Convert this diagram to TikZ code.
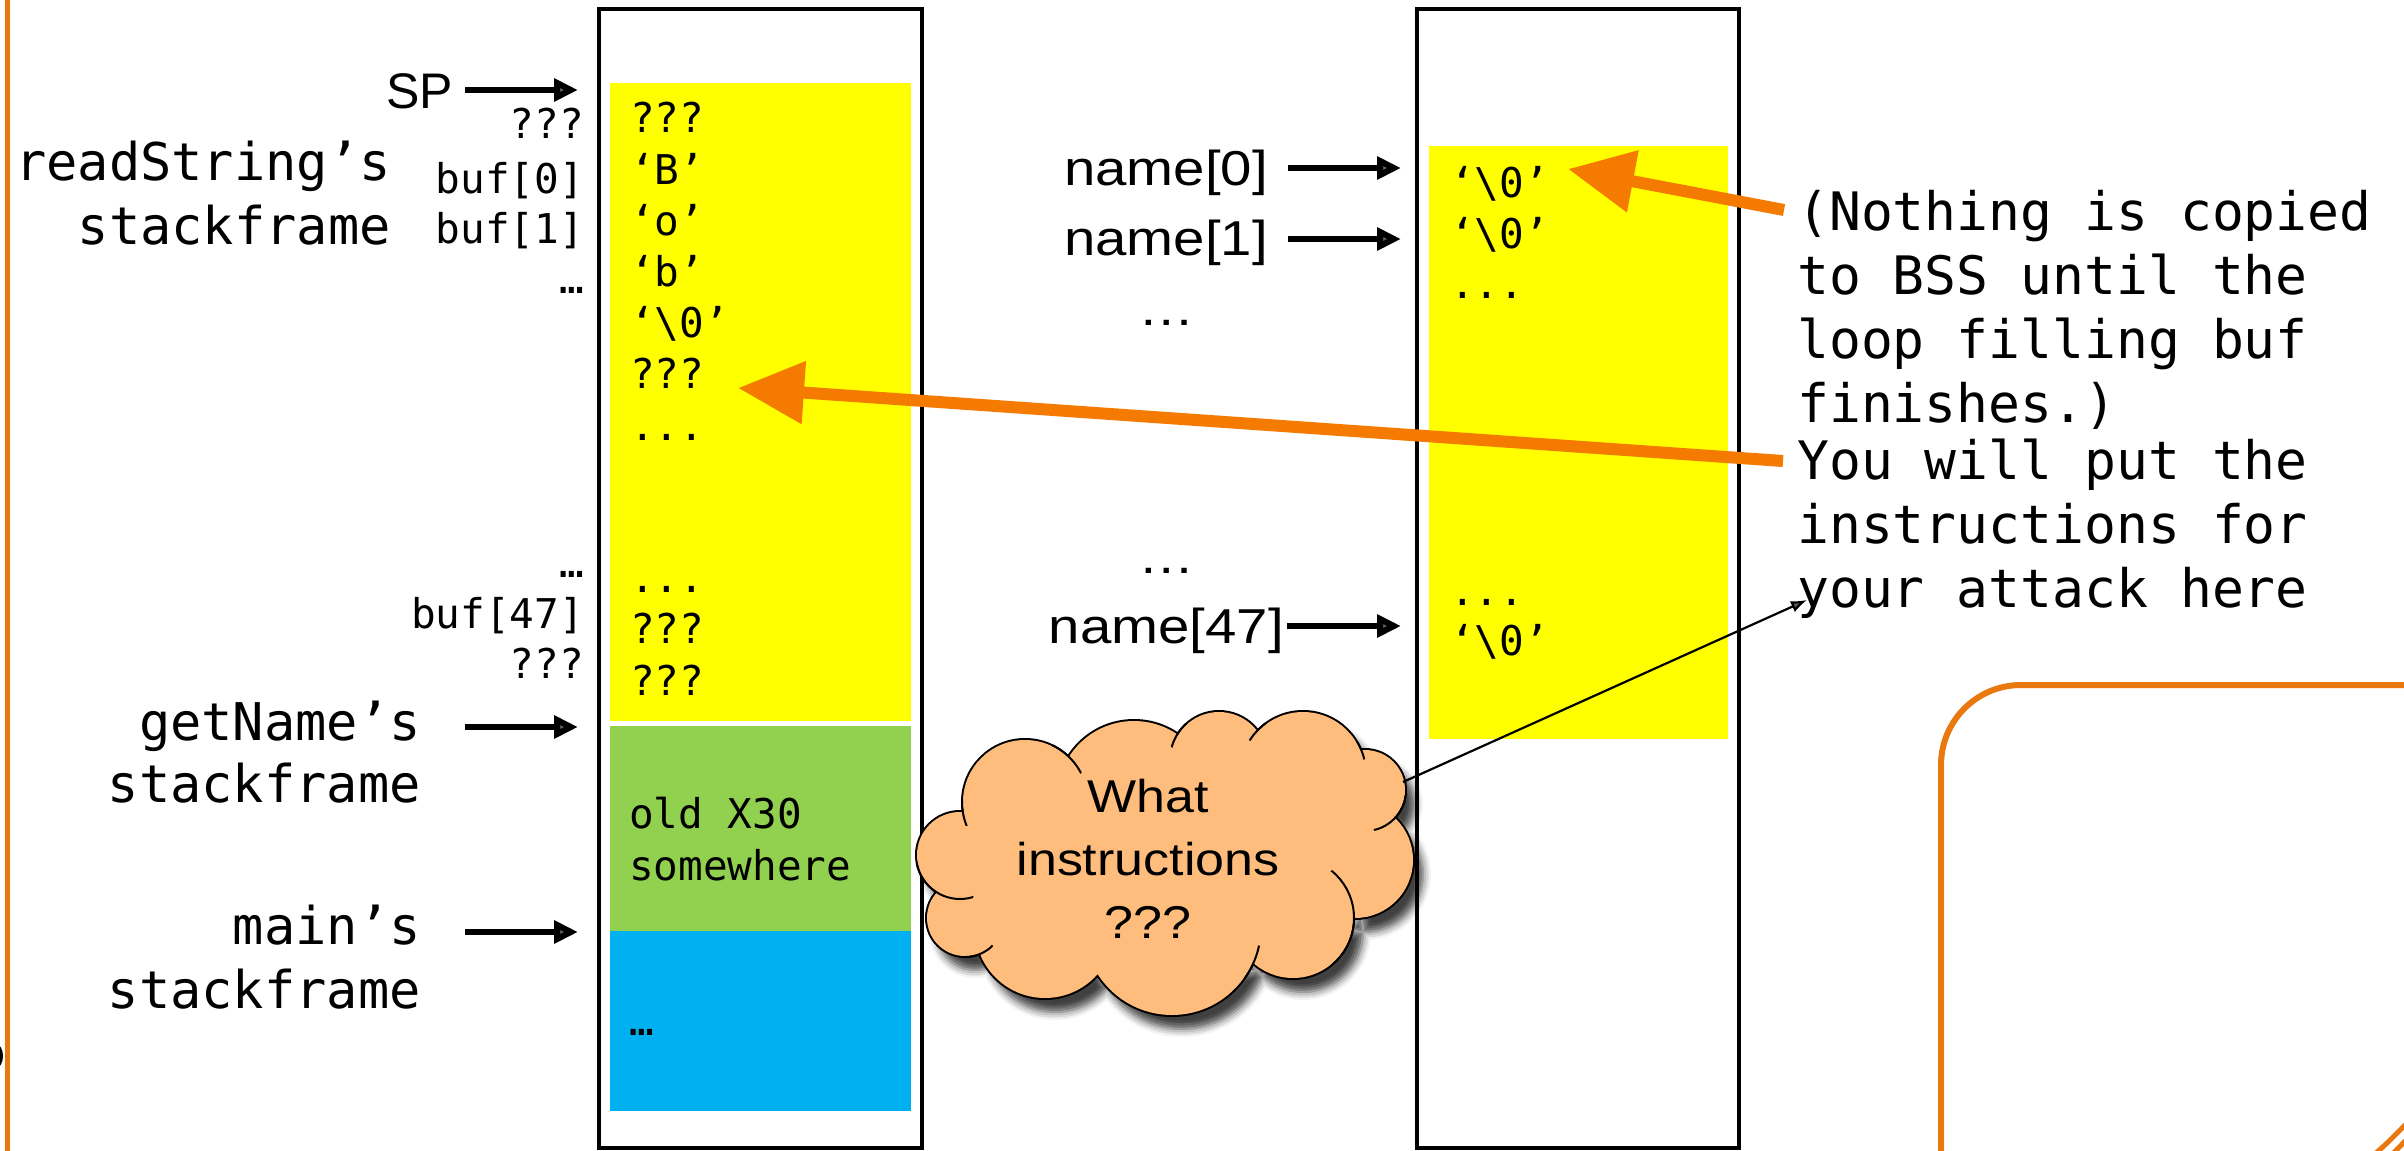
\documentclass[tikz,border=0pt]{standalone}
\usepackage{fontspec}
\usetikzlibrary{arrows.meta,shadows.blur}
\newfontfamily\monofnt{DejaVu Sans Mono}
\newfontfamily\sansfnt{Liberation Sans}
\newfontfamily\namefnt{Liberation Sans}[FakeStretch=1.15]
\newfontfamily\cloudfnt{Liberation Sans}[FakeStretch=1.13]
\definecolor{memyellow}{HTML}{FFFF00}
\definecolor{memgreen}{HTML}{92D050}
\definecolor{memblue}{HTML}{00B0F0}
\definecolor{hotorange}{HTML}{F47A00}
\definecolor{frameorange}{HTML}{E9780E}
\definecolor{cloudfill}{HTML}{FFBD7D}
\begin{document}
\begin{tikzpicture}[x=1pt,y=-1pt,
  bigmono/.style={font=\monofnt\fontsize{52}{63}\selectfont, inner sep=0pt, anchor=base east},
  smallmono/.style={font=\monofnt\fontsize{41}{51}\selectfont, inner sep=0pt, anchor=base east},
  cellmono/.style={font=\monofnt\fontsize{41}{51}\selectfont, inner sep=0pt, anchor=base west},
  notemono/.style={font=\monofnt\fontsize{53}{64}\selectfont, inner sep=0pt, anchor=base west},
  namelbl/.style={font=\namefnt\fontsize{49}{56}\selectfont, inner sep=0pt, anchor=base east},
  cloudtxt/.style={font=\cloudfnt\fontsize{46}{63}\selectfont, inner sep=0pt, anchor=base},
  memframe/.style={draw=black, line width=3.5pt},
  ptr/.style={line width=6pt, -{Triangle[length=24pt,width=22pt]}},
  fatptr/.style={draw=hotorange, line width=12pt, -{Triangle[length=66pt,width=60pt]}},
  thinptr/.style={line width=2.2pt, -{Latex[length=16pt,width=12pt]}},
  orangeframe/.style={draw=frameorange, line width=6pt},
  % the cloud is the union of eleven puffs around an oval core
  cloudpuffs/.style={insert path={
    (960,855) circle[radius=43pt]  (1025,802) circle[radius=62pt]
    (1134,798) circle[radius=77pt] (1219,760) circle[radius=48pt]
    (1303,774) circle[radius=62pt] (1365,790) circle[radius=40pt]
    (1355,860) circle[radius=58pt] (1293,918) circle[radius=60pt]
    (1172,927) circle[radius=88pt] (1045,928) circle[radius=70pt]
    (965,918) circle[radius=38pt]}},
  cloudcore/.style={insert path={(1165,865) ellipse[x radius=200pt, y radius=100pt]}},
  puffstub/.style={draw=black, line width=2pt}
]
\useasboundingbox (0,0) rectangle (2404,1151);

% frame lines in orange
\draw[orangeframe, line width=5pt] (7.5,-10) -- (7.5,1160);
\draw[orangeframe, rounded corners=80pt] (1941,1165) -- (1941,685) -- (2415,685);
\draw[orangeframe, line width=5pt] (2371,1157) .. controls (2386,1145) and (2396,1134) .. (2409,1121);
\draw[orangeframe, line width=5pt] (2389,1157) .. controls (2397,1150) and (2402,1144) .. (2409,1137);
\fill[black] (-4,1056) ellipse [x radius=7pt, y radius=12pt];

% stack memory
\fill[memyellow] (610,83) rectangle (911,721);
\fill[memgreen] (610,726) rectangle (911,931);
\fill[memblue] (610,931) rectangle (911,1111);
\draw[memframe] (599,9) rectangle (922,1148);

% BSS memory
\fill[memyellow] (1429,146) rectangle (1728,739);
\draw[memframe] (1417,9) rectangle (1739,1148);

% stack frame labels
\node[bigmono] (rs1) at (391,180) {readString’s};
\node[bigmono] (rs2) at (391,244) {stackframe};
\node[bigmono] (gn1) at (421,740) {getName’s};
\node[bigmono] (gn2) at (421,802) {stackframe};
\node[bigmono] (mn1) at (421,944) {main’s};
\node[bigmono] (mn2) at (421,1008) {stackframe};

\node[font=\sansfnt\fontsize{50}{60}\selectfont, inner sep=0pt, anchor=base east] (sp) at (453,108) {SP};

% buffer slot labels
\node[smallmono] (q1) at (584,138) {???};
\node[smallmono] (b0) at (584,193) {buf[0]};
\node[smallmono] (b1) at (584,243) {buf[1]};
\node[smallmono] (e1) at (584,293) {…};
\node[smallmono] (e2) at (584,577) {…};
\node[smallmono] (b47) at (584,628) {buf[47]};
\node[smallmono] (q2) at (584,678) {???};

% stack cell contents
\node[cellmono] (c1) at (630,132) {???};
\node[cellmono] (c2) at (630,184) {‘B’};
\node[cellmono] (c3) at (630,235) {‘o’};
\node[cellmono] (c4) at (630,286) {‘b’};
\node[cellmono] (c5) at (630,337) {‘\textbackslash 0’};
\node[cellmono] (c6) at (630,388) {???};
\node[cellmono] (c7) at (630,440) {...};
\node[cellmono] (c8) at (630,592) {...};
\node[cellmono] (c9) at (630,643) {???};
\node[cellmono] (c10) at (630,695) {???};
\node[cellmono] (g1) at (629,828) {old X30};
\node[cellmono] (g2) at (629,880) {somewhere};
\node[cellmono] (bl) at (629,1035) {…};

% BSS cell contents
\node[cellmono] (d1) at (1450,197) {‘\textbackslash 0’};
\node[cellmono] (d2) at (1450,248) {‘\textbackslash 0’};
\node[cellmono] (d3) at (1450,298) {...};
\node[cellmono] (d4) at (1450,605) {...};
\node[cellmono] (d5) at (1450,655) {‘\textbackslash 0’};

% name[] labels
\node[namelbl] (nm0) at (1268,185) {name[0]};
\node[namelbl] (nm1) at (1268,255) {name[1]};
\node[namelbl, anchor=base] (nme1) at (1167,325) {…};
\node[namelbl, anchor=base] (nme2) at (1167,573) {…};
\node[namelbl] (nm47) at (1284,643) {name[47]};

% notes
\node[notemono] (t1) at (1797,230) {(Nothing is copied};
\node[notemono] (t2) at (1797,294) {to BSS until the};
\node[notemono] (t3) at (1797,358) {loop filling buf};
\node[notemono] (t4) at (1797,422) {finishes.)};
\node[notemono] (t5) at (1797,479) {You will put the};
\node[notemono] (t6) at (1797,543) {instructions for};
\node[notemono] (t7) at (1797,607) {your attack here};

% thought cloud: shadow, outline (outer half of a wide stroke), fill
\path[cloudpuffs, cloudcore, fill=cloudfill,
      blur shadow={shadow xshift=10pt, shadow yshift=-14pt, shadow blur radius=8pt, shadow opacity=75}];
\draw[cloudpuffs, draw=black, line width=4pt];
\fill[cloudpuffs, cloudcore, cloudfill];
% short strokes where one puff runs on into its neighbour
\foreach \jx/\jy/\cx/\cy/\r/\len in {
    963.9/812.2/1025/802/63/14, 1068.4/757.7/1025/802/63/20,
    1178.1/734.9/1219/760/49/14, 1257.7/731.7/1303/774/63/12,
    1360.3/750.3/1303/774/63/10, 1394.3/817.3/1365/790/41/24,
    1353/917.9/1293/918/61/52, 1252.7/962.4/1172/927/89/18,
    979.6/953/965/918/39/15, 937.7/891.7/960/855/44/36} {
  \begin{scope}
    \clip (\jx,\jy) circle[radius=\len pt];
    \draw[puffstub] (\cx,\cy) circle[radius=\r pt];
  \end{scope}
}
\node[cloudtxt] (w1) at (1148,812) {What};
\node[cloudtxt] (w2) at (1148,875) {instructions};
\node[cloudtxt] (w3) at (1148,938) {???};

% pointer arrows
\coordinate (spA) at (465,90);   \coordinate (spB) at (578,90);
\coordinate (gnA) at (465,727);  \coordinate (gnB) at (578,727);
\coordinate (mnA) at (465,932);  \coordinate (mnB) at (578,932);
\coordinate (n0A) at (1288,168); \coordinate (n0B) at (1401,168);
\coordinate (n1A) at (1288,239); \coordinate (n1B) at (1401,239);
\coordinate (n47A) at (1287,626); \coordinate (n47B) at (1401,626);
\draw[ptr] (spA) -- (spB);
\draw[ptr] (gnA) -- (gnB);
\draw[ptr] (mnA) -- (mnB);
\draw[ptr] (n0A) -- (n0B);
\draw[ptr] (n1A) -- (n1B);
\draw[ptr] (n47A) -- (n47B);

% callouts
\coordinate (noteTail) at (1784,210); \coordinate (noteTip) at (1568,169);
\coordinate (atkTail) at (1783,461);  \coordinate (atkTip) at (738,388);
\draw[fatptr] (noteTail) -- (noteTip);
\draw[fatptr] (atkTail) -- (atkTip);
\coordinate (cloudOut) at (1403,782); \coordinate (attackTip) at (1807,600);
\draw[thinptr] (cloudOut) -- (attackTip);
\end{tikzpicture}
\end{document}
